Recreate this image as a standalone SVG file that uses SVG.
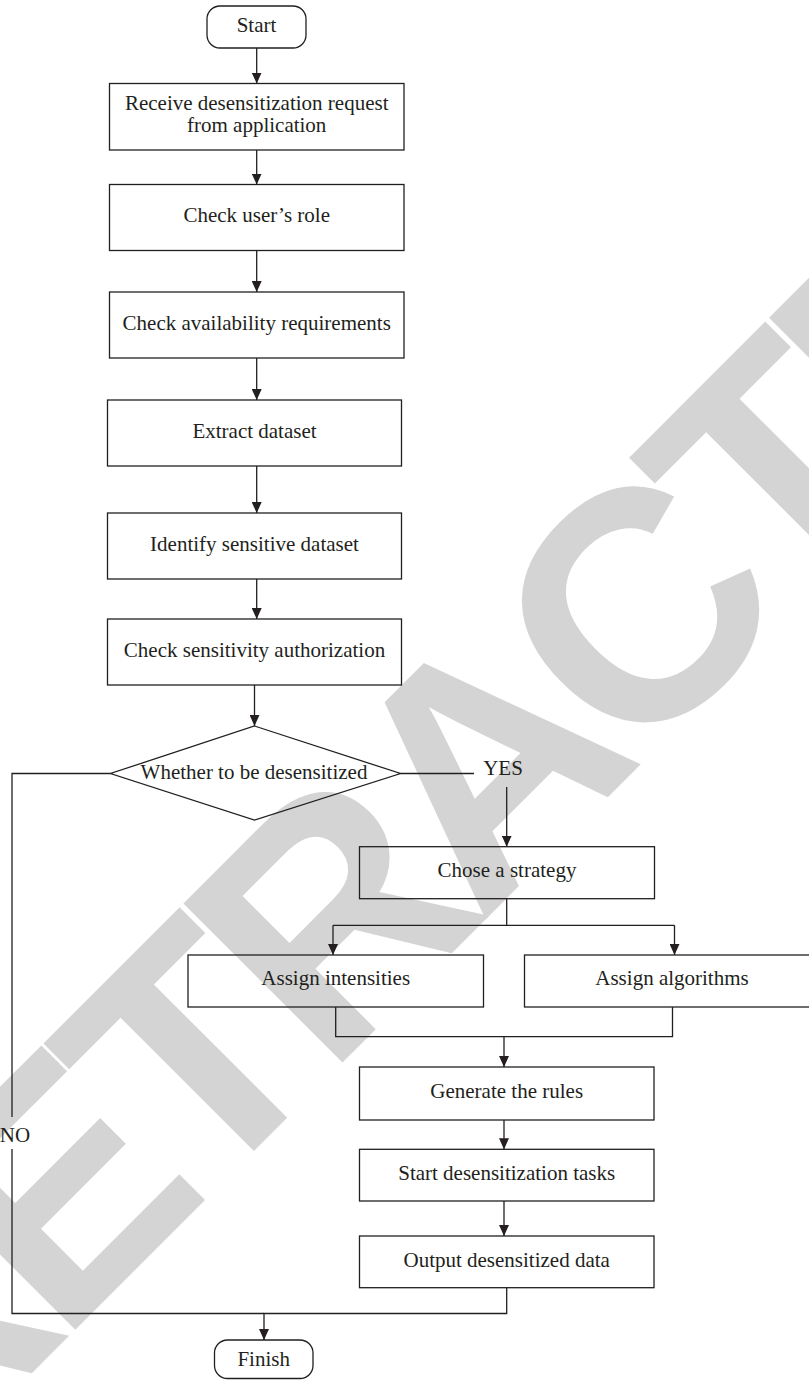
<svg xmlns="http://www.w3.org/2000/svg" width="809" height="1380" viewBox="0 0 809 1380">
<style>
.wm{font-family:"Liberation Sans",Arial,sans-serif;font-weight:bold;font-size:327px;fill:#d4d4d4;letter-spacing:-20px}
.box{fill:none;stroke:#231f20;stroke-width:1.3}
.t{font-family:"Liberation Serif","Times New Roman",serif;font-size:21px;fill:#231f20;text-anchor:middle}
.c{fill:none;stroke:#231f20;stroke-width:1.3}
.a{marker-end:url(#arr)}
</style>
<defs>
<marker id="arr" viewBox="0 0 11 10" refX="11" refY="5" markerWidth="11" markerHeight="10" markerUnits="userSpaceOnUse" orient="auto">
<path d="M0,0 L11,5 L0,10 z" fill="#231f20"/>
</marker>
</defs>
<rect width="809" height="1380" fill="#ffffff"/>
<text class="wm" transform="translate(-93,1498) rotate(-45)" x="0" y="0">RETRACTED</text>

<g id="connectors">
<path class="c a" d="M256.7,48 V83.5"/>
<path class="c a" d="M256.7,150 V184.5"/>
<path class="c a" d="M256.7,250.5 V292"/>
<path class="c a" d="M256.7,358 V400"/>
<path class="c a" d="M256.7,466 V513"/>
<path class="c a" d="M256.7,579 V619"/>
<path class="c a" d="M254.5,685 V726"/>
<path class="c" d="M400.5,773.5 H474"/>
<path class="c a" d="M506.7,787 V846.7"/>
<path class="c" d="M110.5,773.5 H12 V1117"/>
<path class="c" d="M12,1149 V1313.5 H264"/>
<path class="c" d="M506.7,898.7 V925.3"/>
<path class="c" d="M333,925.3 H674.5"/>
<path class="c a" d="M333,925.3 V955"/>
<path class="c a" d="M674.5,925.3 V955"/>
<path class="c" d="M335.7,1007 V1036.7 H672.5 V1007"/>
<path class="c a" d="M504,1036.7 V1067"/>
<path class="c a" d="M504,1120 V1149.3"/>
<path class="c a" d="M504,1201 V1236"/>
<path class="c a" d="M506.7,1287.7 V1313.5 H264 V1340"/>
<text class="t" x="503" y="775">YES</text>
<text class="t" x="15" y="1142">NO</text>
</g>

<g id="start">
<rect class="box" x="207" y="6" width="99" height="42" rx="13"/>
<text class="t" x="256.5" y="32">Start</text>
</g>
<g id="receive">
<rect class="box" x="109.5" y="83.5" width="294.5" height="66.5"/>
<text class="t" x="256.7" y="110">Receive desensitization request</text>
<text class="t" x="256.7" y="132">from application</text>
</g>
<g id="role">
<rect class="box" x="109.5" y="184.5" width="294.5" height="66"/>
<text class="t" x="256.7" y="222">Check user’s role</text>
</g>
<g id="availability">
<rect class="box" x="109.5" y="292" width="294.5" height="66"/>
<text class="t" x="256.7" y="330">Check availability requirements</text>
</g>
<g id="extract">
<rect class="box" x="107.5" y="400" width="294" height="66"/>
<text class="t" x="254.5" y="438">Extract dataset</text>
</g>
<g id="identify">
<rect class="box" x="107.5" y="513" width="294" height="66"/>
<text class="t" x="254.5" y="551">Identify sensitive dataset</text>
</g>
<g id="authorization">
<rect class="box" x="107.5" y="619" width="294" height="66"/>
<text class="t" x="254.5" y="657">Check sensitivity authorization</text>
</g>
<g id="decision">
<polygon class="box" points="254.5,726 400.5,773.5 254.5,820 110.5,773.5"/>
<text class="t" x="254" y="779">Whether to be desensitized</text>
</g>
<g id="strategy">
<rect class="box" x="359.5" y="846.7" width="295" height="52"/>
<text class="t" x="507" y="877">Chose a strategy</text>
</g>
<g id="intensities">
<rect class="box" x="188" y="955" width="295.5" height="52"/>
<text class="t" x="335.7" y="985">Assign intensities</text>
</g>
<g id="algorithms">
<rect class="box" x="524.5" y="955" width="295" height="52"/>
<text class="t" x="672" y="985">Assign algorithms</text>
</g>
<g id="rules">
<rect class="box" x="359.5" y="1067" width="294.5" height="53"/>
<text class="t" x="506.7" y="1098">Generate the rules</text>
</g>
<g id="tasks">
<rect class="box" x="359.5" y="1149.3" width="294.5" height="51.7"/>
<text class="t" x="506.7" y="1180">Start desensitization tasks</text>
</g>
<g id="output">
<rect class="box" x="359.5" y="1236" width="294.5" height="51.7"/>
<text class="t" x="506.7" y="1267">Output desensitized data</text>
</g>
<g id="finish">
<rect class="box" x="214.5" y="1340" width="98.5" height="38.5" rx="13"/>
<text class="t" x="263.7" y="1366">Finish</text>
</g>
</svg>
